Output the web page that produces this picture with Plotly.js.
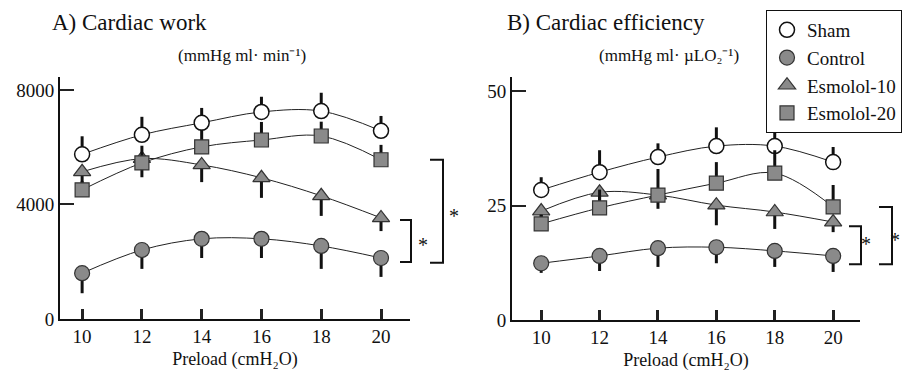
<!DOCTYPE html>
<html>
<head>
<meta charset="utf-8">
<script src="https://cdn.plot.ly/plotly-3.0.1.min.js"></script>
<style>html,body{margin:0;padding:0;background:#fff;}#chart{width:905px;height:376px;}</style>
</head>
<body>
<div id="chart"></div>
<script>
// ---- data ----
const preload = [10, 12, 14, 16, 18, 20];
const seriesNames = ["Sham", "Control", "Esmolol-10", "Esmolol-20"];

// A) Cardiac work (mmHg ml·min-1)
const shamWork = [5750, 6430, 6850, 7230, 7260, 6570];
const shamWorkErr = [630, 630, 520, 530, 640, 520];
const controlWork = [1600, 2410, 2800, 2800, 2550, 2130];
const controlWorkErr = [700, 660, 670, 670, 800, 660];
const esm10Work = [5140, 5600, 5380, 4930, 4300, 3530];
const esm10WorkErr = [450, 650, 600, 700, 700, 460];
const esm20Work = [4510, 5450, 6010, 6250, 6390, 5560];
const esm20WorkErr = [300, 600, 600, 630, 500, 520];

// B) Cardiac efficiency (mmHg ml·µLO2-1)
const shamEff = [28.4, 32.3, 35.6, 38.0, 38.0, 34.5];
const shamEffErr = [2.8, 4.8, 3.0, 4.1, 3.3, 3.3];
const controlEff = [12.4, 14.0, 15.7, 15.9, 15.1, 14.0];
const controlEffErr = [2.1, 3.3, 4.1, 3.5, 3.5, 3.5];
const esm10Eff = [23.8, 27.9, 27.3, 25.1, 23.6, 21.4];
const esm10EffErr = [2.0, 3.0, 3.0, 4.4, 3.7, 2.2];
const esm20Eff = [21.0, 24.5, 27.3, 29.9, 32.1, 24.7];
const esm20EffErr = [2.0, 4.0, 5.7, 4.6, 5.0, 4.8];

const workTicks = [0, 4000, 8000];
const effTicks = [0, 25, 50];

// ---- styling ----
const FONT = "'Liberation Serif', serif";
const GRAY = "#8a8a8a";
const markerStyles = [
  {symbol: "circle", size: 15, color: "#ffffff", line: {color: "#111", width: 1.5}},
  {symbol: "circle", size: 15, color: GRAY, line: {color: "#333", width: 1.2}},
  {symbol: "triangle-up", size: 15, color: GRAY, line: {color: "#333", width: 1.2}},
  {symbol: "square", size: 14, color: GRAY, line: {color: "#333", width: 1.2}}
];
// direction of error bars: up (true) or down (false)
const errUp = [true, false, false, true];

function buildTraces(ys, errs, xa, ya, legend) {
  const traces = [];
  ys.forEach((y, i) => {
    traces.push({
      x: preload, y: y, xaxis: xa, yaxis: ya, type: "scatter", mode: "lines",
      line: {shape: "spline", smoothing: 1, color: "#222", width: 1},
      showlegend: false, hoverinfo: "skip"
    });
  });
  ys.forEach((y, i) => {
    const zeros = errs[i].map(() => 0);
    traces.push({
      x: preload, y: y, xaxis: xa, yaxis: ya, type: "scatter", mode: "markers",
      name: seriesNames[i], showlegend: legend,
      marker: markerStyles[i],
      error_y: {
        type: "data", symmetric: false,
        array: errUp[i] ? errs[i] : zeros,
        arrayminus: errUp[i] ? zeros : errs[i],
        color: "#111", thickness: 3, width: 0
      }
    });
  });
  return traces;
}

const traces = [].concat(
  buildTraces([shamWork, controlWork, esm10Work, esm20Work],
              [shamWorkErr, controlWorkErr, esm10WorkErr, esm20WorkErr], "x", "y", true),
  buildTraces([shamEff, controlEff, esm10Eff, esm20Eff],
              [shamEffErr, controlEffErr, esm10EffErr, esm20EffErr], "x2", "y2", false)
);

const xCommon = {
  tickvals: preload, ticks: "inside", ticklen: 10, tickwidth: 3, tickcolor: "#222",
  showline: true, linecolor: "#111", linewidth: 2, showgrid: false, zeroline: false,
  tickfont: {family: FONT, size: 19, color: "#111"}, ticklabelstandoff: -1
};
const yCommon = {
  ticks: "inside", ticklen: 14, tickwidth: 1.5, tickcolor: "#222",
  showline: true, linecolor: "#111", linewidth: 2, showgrid: false, zeroline: false,
  tickfont: {family: FONT, size: 19, color: "#111"}
};

function px(x) { return x / 905; }
function py(y) { return 1 - y / 376; }

function bracket(x1, x2, yTop, yBot, yref) {
  return {type: "path", xref: "paper", yref: yref,
    path: `M ${x1},${yTop} L ${x2},${yTop} L ${x2},${yBot} L ${x1},${yBot}`,
    line: {color: "#111", width: 2}};
}

const layout = {
  width: 905, height: 376,
  margin: {l: 0, r: 0, t: 0, b: 0},
  paper_bgcolor: "#fff", plot_bgcolor: "rgba(0,0,0,0)",
  font: {family: FONT, color: "#111"},
  showlegend: true,
  legend: {
    x: px(766), y: py(10), xanchor: "left", yanchor: "top",
    bordercolor: "#111", borderwidth: 1, bgcolor: "#fff",
    font: {family: FONT, size: 19, color: "#111"},
    tracegroupgap: 0
  },
  xaxis: Object.assign({}, xCommon, {domain: [px(60), px(410)], range: [9.26, 20.97], anchor: "y",
    title: {text: "Preload (cmH₂O)", font: {family: FONT, size: 18, color: "#111"}, standoff: 7}}),
  yaxis: Object.assign({}, yCommon, {domain: [py(319), py(77)], range: [0, 8450], tickvals: workTicks, anchor: "x"}),
  xaxis2: Object.assign({}, xCommon, {domain: [px(512), px(860)], range: [9.0, 20.92], anchor: "y2",
    title: {text: "Preload (cmH₂O)", font: {family: FONT, size: 18, color: "#111"}, standoff: 7}}),
  yaxis2: Object.assign({}, yCommon, {domain: [py(320), py(77)], range: [0, 53.1], tickvals: effTicks, anchor: "x2"}),
  annotations: [
    {text: "A) Cardiac work", xref: "paper", yref: "paper", x: px(50), y: py(22), xanchor: "left", yanchor: "middle",
     showarrow: false, font: {family: FONT, size: 23, color: "#111"}},
    {text: "(mmHg ml· min⁻¹)", xref: "paper", yref: "paper", x: px(176), y: py(55), xanchor: "left", yanchor: "middle",
     showarrow: false, font: {family: FONT, size: 17, color: "#111"}},
    {text: "B) Cardiac efficiency", xref: "paper", yref: "paper", x: px(505), y: py(22), xanchor: "left", yanchor: "middle",
     showarrow: false, font: {family: FONT, size: 23, color: "#111"}},
    {text: "(mmHg ml· µLO₂⁻¹)", xref: "paper", yref: "paper", x: px(597), y: py(55), xanchor: "left", yanchor: "middle",
     showarrow: false, font: {family: FONT, size: 17, color: "#111"}},
    {text: "*", xref: "paper", yref: "y", x: px(423), y: 2600, showarrow: false, font: {family: FONT, size: 20, color: "#111"}},
    {text: "*", xref: "paper", yref: "y", x: px(454), y: 3600, showarrow: false, font: {family: FONT, size: 20, color: "#111"}},
    {text: "*", xref: "paper", yref: "y2", x: px(873), y: 16.5, showarrow: false, font: {family: FONT, size: 20, color: "#111"}},
    {text: "*", xref: "paper", yref: "y2", x: px(902), y: 17.5, showarrow: false, font: {family: FONT, size: 20, color: "#111"}}
  ],
  shapes: [
    bracket(px(430), px(443), 5560, 1960, "y"),
    bracket(px(400), px(411), 3460, 1990, "y"),
    bracket(px(849), px(861), 20.5, 12.2, "y2"),
    bracket(px(879), px(892), 24.7, 12.2, "y2")
  ]
};

Plotly.newPlot("chart", traces, layout, {displayModeBar: false});
</script>
</body>
</html>
